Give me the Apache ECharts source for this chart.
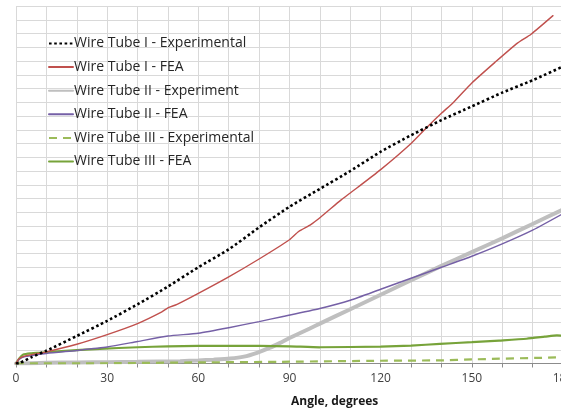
<!DOCTYPE html>
<html>
<head>
<meta charset="utf-8">
<script src="https://cdn.jsdelivr.net/npm/echarts@6/dist/echarts.min.js"></script>
<style>
html,body{margin:0;padding:0;background:#fff;}
#chart{width:561px;height:412px;}
</style>
</head>
<body>
<div id="chart"></div>
<script>
// Angle (degrees) vs. value (in gridline units)
var seriesNames = [
  'Wire Tube I - Experimental',
  'Wire Tube I - FEA',
  'Wire Tube II - Experiment',
  'Wire Tube II - FEA',
  'Wire Tube III - Experimental',
  'Wire Tube III - FEA'
];
var xTicks = [0, 30, 60, 90, 120, 150, 180];

var tube1Exp = [[0,0],[1.3,0.05],[5,0.45],[10,0.93],[20,2.0],[30,3.1],[40,4.3],[50,5.6],[60,7.0],[70,8.3],[80,9.9],[90,11.4],[100,12.7],[110,14.0],[120,15.4],[130,16.6],[140,17.7],[150,18.7],[160,19.7],[170,20.6],[180,21.6]];
var tube1Fea = [[0,0],[1,0.35],[3,0.55],[10,0.85],[20,1.4],[30,2.1],[40,2.9],[48,3.75],[50,4.05],[53,4.3],[60,5.1],[70,6.3],[80,7.6],[90,9.0],[93,9.6],[97,10.1],[100,10.6],[107,11.9],[110,12.4],[120,14.1],[130,16.0],[136,17.35],[140,18.2],[144,19.0],[150,20.4],[157.6,21.9],[165,23.3],[169.5,23.95],[176.7,25.3]];
var tube2Exp = [[0,0],[10,0.05],[20,0.08],[30,0.1],[40,0.12],[54,0.17],[60,0.22],[65,0.28],[70.4,0.36],[75,0.5],[79.3,0.78],[83.6,1.15],[86.9,1.5],[90,1.85],[96.7,2.55],[100,2.9],[110,3.95],[120,5.0],[130,6.05],[140,7.1],[150,8.1],[160,9.1],[170,10.15],[180,11.2]];
var tube2Fea = [[0,0],[1,0.3],[3,0.5],[10,0.73],[20,0.95],[30,1.2],[40,1.6],[50,2.0],[60,2.2],[70,2.6],[80,3.05],[87.5,3.4],[100,4.0],[110,4.6],[120,5.4],[130,6.2],[140,7.0],[150,7.8],[160,8.7],[170,9.7],[180,10.9]];
var tube3Exp = [[0,0],[30,0.02],[60,0.08],[90,0.13],[120,0.2],[140,0.23],[150,0.3],[180,0.45]];
var tube3Fea = [[0,0],[1,0.35],[2.4,0.65],[5,0.74],[7.9,0.78],[15,0.9],[27.6,1.07],[40,1.18],[50,1.25],[60,1.28],[80,1.28],[90,1.25],[100,1.18],[120,1.23],[130,1.3],[139.5,1.43],[150,1.55],[159,1.67],[168,1.8],[174,1.95],[178,2.05],[180,2.0]];

var chart = echarts.init(document.getElementById('chart'), null, {renderer: 'canvas'});
var gridColor = '#d9d9d9';
function line(name, data, color, width, type, cap, z) {
  return {
    name: name, type: 'line', data: data, showSymbol: false, symbol: 'none',
    smooth: 0.2, z: z,
    lineStyle: {color: color, width: width, type: type, cap: cap},
    itemStyle: {color: color}
  };
}
chart.setOption({
  animation: false,
  backgroundColor: '#ffffff',
  textStyle: {fontFamily: 'Open Sans'},
  grid: {left: 16, top: 6, width: 547, bottom: 48.5, containLabel: false, outerBoundsMode: 'none'},
  title: {
    text: 'Angle, degrees', left: 286, top: 391,
    textStyle: {fontFamily: 'Open Sans', fontSize: 12, fontWeight: 'bold', color: '#1a1a1a'}
  },
  legend: {
    orient: 'vertical', left: 48, top: 36.5, padding: 0,
    itemWidth: 24, itemHeight: 14, itemGap: 9.6,
    data: seriesNames,
    itemStyle: {opacity: 0},
    textStyle: {fontFamily: 'Open Sans', fontSize: 14, lineHeight: 14, color: '#262626', padding: [0, 0, 0, -4]}
  },
  xAxis: {
    type: 'value', min: 0, max: 180, interval: 30,
    axisLine: {show: true, lineStyle: {color: '#8c8c8c', width: 1}},
    axisTick: {show: true, length: 4, lineStyle: {color: '#8c8c8c'}},
    minorTick: {show: true, splitNumber: 3, length: 4, lineStyle: {color: '#8c8c8c'}},
    axisLabel: {
      margin: 9, fontSize: 12, color: '#404040', fontFamily: 'Open Sans',
      formatter: function (v) { return xTicks.indexOf(v) >= 0 ? String(v) : ''; }
    },
    splitLine: {show: true, lineStyle: {color: gridColor, width: 1}},
    minorSplitLine: {show: true, lineStyle: {color: gridColor, width: 1}}
  },
  yAxis: {
    type: 'value', min: 0, max: 26, interval: 1,
    axisLine: {show: false}, axisTick: {show: false}, axisLabel: {show: false},
    splitLine: {show: true, lineStyle: {color: gridColor, width: 1}}
  },
  series: [
    line(seriesNames[0], tube1Exp, '#000000', 2.6, [2.6, 2.6], 'butt', 6),
    line(seriesNames[1], tube1Fea, '#c0504d', 1.4, 'solid', 'round', 5),
    line(seriesNames[2], tube2Exp, '#bfbfbf', 4, 'solid', 'round', 2),
    line(seriesNames[3], tube2Fea, '#7560a6', 1.4, 'solid', 'round', 4),
    line(seriesNames[4], tube3Exp, '#9bbb59', 2.2, [8, 6], 'butt', 3),
    line(seriesNames[5], tube3Fea, '#77a33a', 2.2, 'solid', 'round', 3)
  ]
});
</script>
</body>
</html>
